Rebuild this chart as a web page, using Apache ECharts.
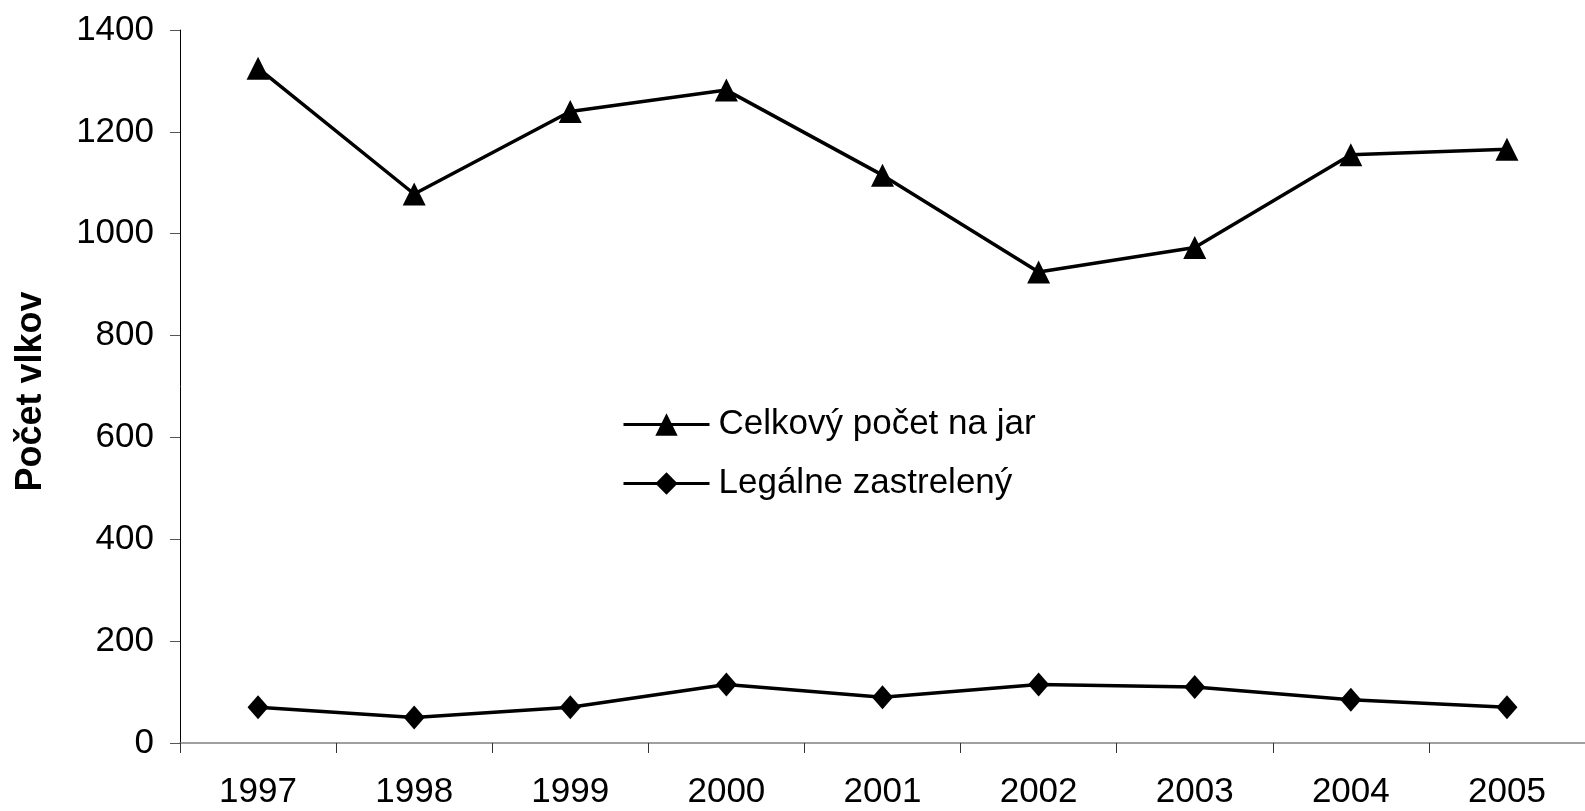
<!DOCTYPE html>
<html>
<head>
<meta charset="utf-8">
<script src="https://cdn.jsdelivr.net/npm/echarts@6/dist/echarts.min.js"></script>
<style>
  html, body { margin: 0; padding: 0; background: #fff; }
  #chart { width: 1585px; height: 811px; }
</style>
</head>
<body>
<div id="chart"></div>
<script>
// roky na osi x
const years = ['1997', '1998', '1999', '2000', '2001', '2002', '2003', '2004', '2005'];
// celkový počet vlkov na jar
const totalSpring = [1325, 1078, 1240, 1282, 1115, 925, 973, 1155, 1166];
// legálne zastrelené vlky
const legalShot = [70, 50, 70, 115, 90, 115, 110, 85, 70];
const seriesNames = ['Celkový počet na jar', 'Legálne zastrelený'];
const yTicks = [0, 1400, 200]; // min, max, interval

const font = 'Liberation Sans, Arial, sans-serif';
const chart = echarts.init(document.getElementById('chart'));

chart.setOption({
  animation: false,
  backgroundColor: '#fff',
  grid: { left: 180, right: 0, top: 30, bottom: 68 },
  legend: {
    orient: 'vertical',
    left: 617,
    top: 402,
    itemWidth: 86,
    itemHeight: 28,
    itemGap: 24,
    lineStyle: { width: 3 },
    textStyle: { fontFamily: font, fontSize: 35, color: '#000', padding: [0, 0, 0, 4] },
    data: seriesNames
  },
  xAxis: {
    type: 'category',
    data: years,
    boundaryGap: true,
    axisLine: { lineStyle: { color: '#808080', width: 1.5 } },
    axisTick: { show: true, length: 10, lineStyle: { color: '#333' } },
    axisLabel: { fontFamily: font, fontSize: 35, color: '#000', margin: 32 }
  },
  yAxis: {
    type: 'value',
    min: yTicks[0],
    max: yTicks[1],
    interval: yTicks[2],
    name: 'Počet vlkov',
    nameLocation: 'middle',
    nameGap: 131,
    nameRotate: 90,
    nameTextStyle: { fontFamily: font, fontSize: 36, fontWeight: 'bold', color: '#000', padding: [0, 10, 0, 0] },
    axisLine: { show: true, lineStyle: { color: '#000', width: 1 } },
    axisTick: { show: true, length: 10, lineStyle: { color: '#555' } },
    splitLine: { show: false },
    axisLabel: {
      fontFamily: font, fontSize: 35, color: '#000', margin: 26,
      formatter: v => String(v)
    }
  },
  series: [
    {
      name: seriesNames[0],
      type: 'line',
      data: totalSpring,
      symbol: 'triangle',
      symbolSize: 23,
      color: '#000',
      lineStyle: { color: '#000', width: 3.5 },
      itemStyle: { color: '#000' }
    },
    {
      name: seriesNames[1],
      type: 'line',
      data: legalShot,
      symbol: 'diamond',
      symbolSize: [21, 24],
      color: '#000',
      lineStyle: { color: '#000', width: 3.5 },
      itemStyle: { color: '#000' }
    }
  ]
});
</script>
</body>
</html>
